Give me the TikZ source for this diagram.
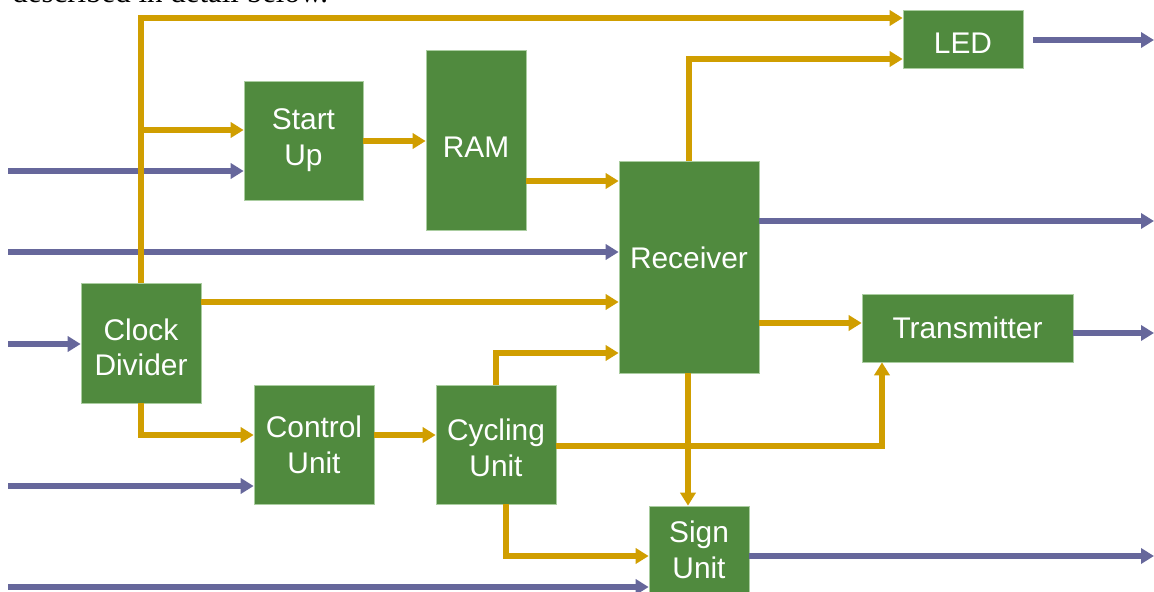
\documentclass[tikz,border=0pt]{standalone}
\usepackage{fontspec}
\setmainfont{Liberation Sans}
\newfontfamily\serifpart{Liberation Serif}
\usetikzlibrary{arrows.meta}
\definecolor{boxgreen}{RGB}{80,138,62}
\definecolor{boxedge}{RGB}{170,205,160}
\definecolor{gold}{RGB}{208,158,0}
\definecolor{violet}{RGB}{102,103,155}
\begin{document}
\begin{tikzpicture}[x=0.02cm,y=-0.02cm,
  blk/.style={fill=boxgreen,draw=boxedge,line width=0.4pt,text=white,align=center,
    inner sep=0pt,font=\fontsize{17}{20.4}\selectfont},
  gl/.style={draw=gold,line width=2.9pt,-{Triangle[length=7.4pt,width=8.6pt]}},
  vl/.style={draw=violet,line width=2.9pt,-{Triangle[length=7.4pt,width=8.6pt]}}]
\clip (0,0) rectangle (1154,592);
\useasboundingbox (0,0) rectangle (1154,592);
\node[anchor=base west,inner sep=0pt,font=\serifpart\fontsize{17.6}{20}\selectfont] (cap) at (12,2.5) {described in detail below.};

% blocks
\node[blk,minimum width=2.4cm,minimum height=1.16cm,text height=17pt,text depth=0pt] (led) at (963,39) {LED};
\node[blk,minimum width=2.38cm,minimum height=2.38cm] (start) at (303.5,140.5) {Start\\Up};
\node[blk,minimum width=2.0cm,minimum height=3.6cm,text height=20.4pt,text depth=0pt] (ram) at (476,140) {RAM};
\node[blk,minimum width=2.8cm,minimum height=4.24cm,text height=12.4pt,text depth=10.2pt] (rec) at (689,267) {Receiver};
\node[blk,minimum width=4.22cm,minimum height=1.36cm] (tx) at (967.5,328) {Transmitter};
\node[blk,minimum width=2.4cm,minimum height=2.4cm,text height=37.4pt,text depth=0pt] (clk) at (141,343) {Clock\\Divider};
\node[blk,minimum width=2.4cm,minimum height=2.38cm] (ctl) at (314,444.5) {Control\\Unit};
\node[blk,minimum width=2.4cm,minimum height=2.38cm,text height=36.2pt,text depth=0pt] (cyc) at (496,444.5) {Cycling\\Unit};
\node[blk,minimum width=2.0cm,minimum height=1.76cm] (sign) at (699,550) {Sign\\Unit};

% free ends
\coordinate (i1) at (8,171);
\coordinate (i2) at (8,252);
\coordinate (i3) at (8,344);
\coordinate (i4) at (8,486);
\coordinate (i5) at (8,587);
\coordinate (ledo) at (1033,40);
\coordinate (o1) at (1154,40);
\coordinate (o2) at (1154,221);
\coordinate (o3) at (1154,333);
\coordinate (o4) at (1154,556);
\coordinate (br) at (141,130);

% violet inputs / outputs
\draw[vl] (i1) -- (i1 -| start.west);
\draw[vl] (i2) -- (i2 -| rec.west);
\draw[vl] (i3) -- (i3 -| clk.west);
\draw[vl] (i4) -- (i4 -| ctl.west);
\draw[vl] (i5) -- (i5 -| sign.west);
\draw[vl] (ledo) -- (o1);
\draw[vl] (rec.east |- o2) -- (o2);
\draw[vl] (tx.east |- o3) -- (o3);
\draw[vl] (sign.east |- o4) -- (o4);

% gold clock and data lines
\draw[gl] (clk.north) |- (led.west |- 0,18);
\draw[gl] (br) -- (br -| start.west);
\draw[gl] (start.east |- 0,141) -- (ram.west |- 0,141);
\draw[gl] (ram.east |- 0,181) -- (rec.west |- 0,181);
\draw[gl] (clk.east |- 0,302) -- (rec.west |- 0,302);
\draw[gl] (clk.south) |- (ctl.west |- 0,435);
\draw[gl] (ctl.east |- 0,435) -- (cyc.west |- 0,435);
\draw[gl] (cyc.north) |- (rec.west |- 0,353);
\draw[gl] (cyc.east |- 0,446) -| (tx.south -| 882,0);
\draw[gl] (cyc.south -| 506,0) |- (sign.west |- 0,556);
\draw[gl] (rec.north) |- (led.west |- 0,59);
\draw[gl] (rec.east |- 0,323) -- (tx.west |- 0,323);
\draw[gl] (rec.south -| 688,0) -- (sign.north -| 688,0);
\end{tikzpicture}
\end{document}
